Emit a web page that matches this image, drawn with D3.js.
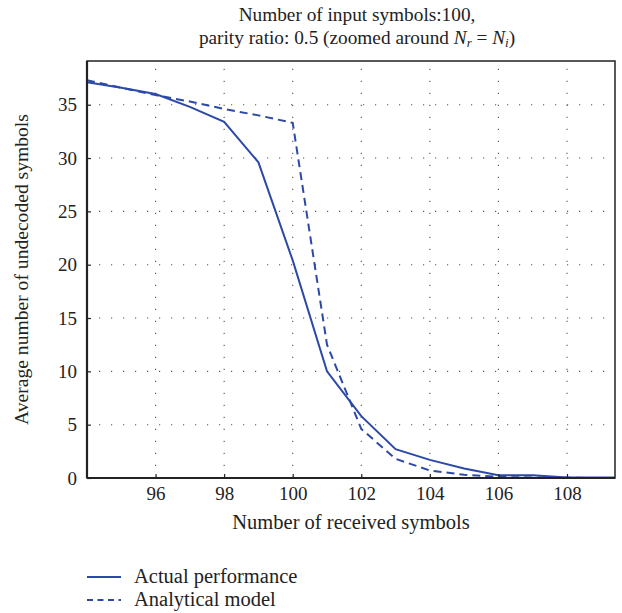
<!DOCTYPE html>
<html>
<head>
<meta charset="utf-8">
<script src="https://cdn.jsdelivr.net/npm/d3@7"></script>
<style>
  body { margin: 0; background: #fff; }
  text { font-family: "Liberation Serif"; }
</style>
</head>
<body>
<div id="chart"></div>
<script>
const w = 622;
const h = 613;
const margin = { left: 87, right: 7, top: 61, bottom: 135 };

// values
const receivedSymbols = [94, 95, 96, 97, 98, 99, 100, 101, 102, 103, 104, 105, 106, 107, 108, 109, 110];
const actualPerformance = [37.1, 36.6, 36.0, 34.8, 33.4, 29.6, 20.4, 10.0, 5.8, 2.7, 1.7, 0.9, 0.25, 0.25, 0.05, 0.05, 0.05];
const analyticalModel = [37.3, 36.6, 35.9, 35.3, 34.6, 34.0, 33.3, 12.5, 4.6, 1.8, 0.7, 0.3, 0.1, 0.05, 0.02, 0, 0];
const xTicks = [96, 98, 100, 102, 104, 106, 108];
const yTicks = [0, 5, 10, 15, 20, 25, 30, 35];
const seriesNames = ["Actual performance", "Analytical model"];

const blue = "#2c49a6";

const svg = d3.select("#chart")
  .append("svg")
  .attr("width", w)
  .attr("height", h);

const xScale = d3.scaleLinear()
  .domain([94, 109.4])
  .range([margin.left, w - margin.right]);

const yScale = d3.scaleLinear()
  .domain([0, 39.1])
  .range([h - margin.bottom, margin.top]);

const plotW = w - margin.left - margin.right;
const plotH = h - margin.top - margin.bottom;

svg.append("clipPath")
  .attr("id", "clip")
  .append("rect")
  .attr("x", margin.left)
  .attr("y", margin.top)
  .attr("width", plotW)
  .attr("height", plotH);

// dotted grid
svg.append("g")
  .selectAll("line")
  .data(xTicks)
  .enter()
  .append("line")
  .attr("x1", (d) => xScale(d))
  .attr("x2", (d) => xScale(d))
  .attr("y1", h - margin.bottom)
  .attr("y2", margin.top)
  .attr("stroke", "#555")
  .attr("stroke-width", 1.1)
  .attr("stroke-dasharray", "1.2,10.8");

svg.append("g")
  .selectAll("line")
  .data(yTicks.slice(1))
  .enter()
  .append("line")
  .attr("x1", margin.left)
  .attr("x2", w - margin.right)
  .attr("y1", (d) => yScale(d))
  .attr("y2", (d) => yScale(d))
  .attr("stroke", "#555")
  .attr("stroke-width", 1.1)
  .attr("stroke-dasharray", "1.2,10.8");

// lines
const line = (vals) => d3.line()
  .x((d, i) => xScale(receivedSymbols[i]))
  .y((d) => yScale(d))(vals);

const plot = svg.append("g").attr("clip-path", "url(#clip)");

plot.append("path")
  .attr("d", line(analyticalModel))
  .attr("fill", "none")
  .attr("stroke", blue)
  .attr("stroke-width", 2)
  .attr("stroke-dasharray", "8,5");

plot.append("path")
  .attr("d", line(actualPerformance))
  .attr("fill", "none")
  .attr("stroke", blue)
  .attr("stroke-width", 2);

// frame
svg.append("rect")
  .attr("x", margin.left)
  .attr("y", margin.top)
  .attr("width", plotW)
  .attr("height", plotH)
  .attr("fill", "none")
  .attr("stroke", "#222")
  .attr("stroke-width", 1.5);

// axes
const xAxis = d3.axisBottom(xScale)
  .tickValues(xTicks)
  .tickSize(-4)
  .tickPadding(9)
  .tickFormat(d3.format("d"));

const yAxis = d3.axisLeft(yScale)
  .tickValues(yTicks)
  .tickSize(-4)
  .tickPadding(10)
  .tickFormat(d3.format("d"));

const gx = svg.append("g")
  .attr("transform", "translate(0," + (h - margin.bottom) + ")")
  .call(xAxis);

const gy = svg.append("g")
  .attr("transform", "translate(" + margin.left + ",0)")
  .call(yAxis);

[gx, gy].forEach((g) => {
  g.attr("font-family", "Liberation Serif").attr("font-size", "19px");
  g.select(".domain").attr("stroke", "#222").attr("stroke-width", 2.2);
  g.selectAll(".tick line").attr("stroke", "#222").attr("stroke-width", 1.2);
  g.selectAll(".tick text").attr("fill", "#222");
});
gy.select(".domain").attr("d", "M0," + (h - margin.bottom) + "V" + margin.top);
gx.select(".domain").attr("d", "M" + margin.left + ",0H" + (w - margin.right));

// titles
const cx = margin.left + plotW / 2 + 6;

const addText = (x, y, str, size) => svg.append("text")
  .attr("x", x)
  .attr("y", y)
  .attr("font-family", "Liberation Serif")
  .attr("font-size", size)
  .attr("fill", "#222")
  .text(str);

addText(cx, 21, "Number of input symbols:100,", "19.3px").attr("text-anchor", "middle");

const t2 = addText(cx, 44, "", "19.3px").attr("text-anchor", "middle");
t2.append("tspan").text("parity ratio: 0.5 (zoomed around ");
t2.append("tspan").attr("font-style", "italic").text("N");
t2.append("tspan").attr("font-style", "italic").attr("font-size", "13px").attr("dy", 3).text("r");
t2.append("tspan").attr("dy", -3).text(" = ");
t2.append("tspan").attr("font-style", "italic").text("N");
t2.append("tspan").attr("font-style", "italic").attr("font-size", "13px").attr("dy", 3).text("i");
t2.append("tspan").attr("dy", -3).text(")");

addText(margin.left + plotW / 2, 529, "Number of received symbols", "20.5px").attr("text-anchor", "middle");

addText(-(margin.top + plotH / 2), 28, "Average number of undecoded symbols", "19.6px")
  .attr("transform", "rotate(-90)")
  .attr("text-anchor", "middle");

// legend
seriesNames.forEach((name, i) => {
  const y = 577 + i * 23;
  svg.append("line")
    .attr("x1", 87)
    .attr("x2", 121)
    .attr("y1", y)
    .attr("y2", y)
    .attr("stroke", blue)
    .attr("stroke-width", 2)
    .attr("stroke-dasharray", i === 0 ? null : "6,4.5");
  addText(134, y + 6, name, "20.5px");
});
</script>
</body>
</html>
